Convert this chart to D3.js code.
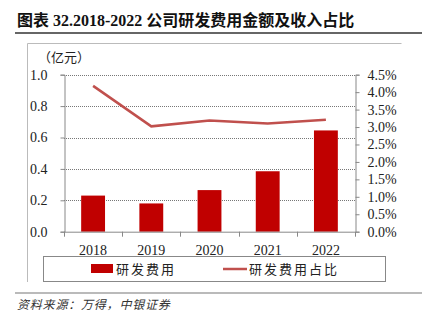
<!DOCTYPE html>
<html>
<head>
<meta charset="utf-8">
<script src="https://cdn.jsdelivr.net/npm/d3@7"></script>
<style>
  html, body { margin: 0; padding: 0; background: #fff; }
  svg { display: block; }
</style>
</head>
<body>
<svg id="chart" width="425" height="326"></svg>
<script>
// R&D expense (100 million CNY) and its share of revenue, 2018-2022
const years = ["2018", "2019", "2020", "2021", "2022"];
const rdExpense = [0.23, 0.18, 0.265, 0.385, 0.645];
const rdShare = [0.0418, 0.0302, 0.0319, 0.0310, 0.0321];
const leftTicks = [0, 0.2, 0.4, 0.6, 0.8, 1.0];
const rightTicks = [0, 0.005, 0.01, 0.015, 0.02, 0.025, 0.03, 0.035, 0.04, 0.045];

const titleText = "图表 32.2018-2022 公司研发费用金额及收入占比";
const unitText = "（亿元）";
const legendBar = "研发费用";
const legendLine = "研发费用占比";
const sourceText = "资料来源：万得，中银证券";

const latin = "'Liberation Serif', 'Times New Roman', serif";
const cjk = "'Noto Sans CJK SC', sans-serif";
const mixed = "'Liberation Serif', 'Noto Sans CJK SC', serif";

const svg = d3.select("#chart");

const plot = { left: 64, right: 355, top: 74.7, bottom: 231.7 };

const x = d3.scaleBand().domain(years).range([plot.left, plot.right]).paddingInner(0.59).paddingOuter(0.295);
const xBand = d3.scaleBand().domain(years).range([plot.left, plot.right]);
const yL = d3.scaleLinear().domain([0, 1.0]).range([plot.bottom, plot.top]);
const yR = d3.scaleLinear().domain([0, 0.045]).range([plot.bottom, plot.top]);

// Title and rules
svg.append("text").attr("x", 17).attr("y", 26)
  .attr("font-family", mixed).attr("font-weight", "bold").attr("font-size", 16)
  .attr("fill", "#111").text(titleText);
svg.append("line").attr("x1", 15).attr("x2", 422).attr("y1", 33).attr("y2", 33)
  .attr("stroke", "#333").attr("stroke-width", 1.5);
svg.append("line").attr("x1", 15).attr("x2", 422).attr("y1", 293).attr("y2", 293)
  .attr("stroke", "#777").attr("stroke-width", 1.2);

// Chart frame (left and top edges)
svg.append("path").attr("d", "M27.5,282 V43.5 H401.5")
  .attr("fill", "none").attr("stroke", "#bbb").attr("stroke-width", 1);

// Unit label
svg.append("text").attr("x", 38).attr("y", 62)
  .attr("font-family", cjk).attr("font-size", 13).attr("fill", "#222").text(unitText);

// Dotted grid lines
svg.append("g").selectAll("line").data(leftTicks.filter(d => d > 0)).join("line")
  .attr("x1", plot.left).attr("x2", plot.right)
  .attr("y1", d => Math.round(yL(d)) + 0.5).attr("y2", d => Math.round(yL(d)) + 0.5)
  .attr("stroke", "#777").attr("stroke-width", 1).attr("stroke-dasharray", "1,1");

// Bars
svg.append("g").selectAll("rect").data(years).join("rect")
  .attr("x", d => x(d)).attr("width", x.bandwidth())
  .attr("y", (d, i) => yL(rdExpense[i]))
  .attr("height", (d, i) => plot.bottom - yL(rdExpense[i]))
  .attr("fill", "#C00000");

// Left axis
const axisL = svg.append("g").attr("transform", `translate(${plot.left + 0.5},0)`)
  .call(d3.axisLeft(yL).tickValues(leftTicks).tickFormat(d3.format(".1f")).tickSize(4).tickPadding(13));
axisL.select(".domain").attr("stroke", "#888");
axisL.selectAll(".tick line").attr("stroke", "#888");
axisL.selectAll("text").attr("font-family", latin).attr("font-size", 14).attr("fill", "#222");

// Right axis
const axisR = svg.append("g").attr("transform", `translate(${plot.right + 0.5},0)`)
  .call(d3.axisRight(yR).tickValues(rightTicks).tickFormat(d3.format(".1%")).tickSize(4).tickPadding(8));
axisR.select(".domain").attr("stroke", "#888");
axisR.selectAll(".tick line").attr("stroke", "#888");
axisR.selectAll("text").attr("font-family", latin).attr("font-size", 14).attr("fill", "#222");

// Bottom axis with ticks between categories
const axisB = svg.append("g").attr("transform", `translate(0,${plot.bottom + 0.5})`)
  .call(d3.axisBottom(x).tickSize(0).tickPadding(13));
axisB.select(".domain").attr("stroke", "#888").attr("d", `M${plot.left},0H${plot.right}`);
axisB.selectAll("text").attr("font-family", latin).attr("font-size", 14).attr("fill", "#222");
svg.append("g").selectAll("line").data(years.concat(["end"])).join("line")
  .attr("x1", (d, i) => Math.round(plot.left + i * xBand.bandwidth()) + 0.5)
  .attr("x2", (d, i) => Math.round(plot.left + i * xBand.bandwidth()) + 0.5)
  .attr("y1", plot.bottom).attr("y2", plot.bottom + 5)
  .attr("stroke", "#888");

// Share line
const line = d3.line()
  .x((d, i) => x(years[i]) + x.bandwidth() / 2)
  .y(d => yR(d));
svg.append("path").datum(rdShare).attr("d", line)
  .attr("fill", "none").attr("stroke", "#C0504D").attr("stroke-width", 2.5);

// Legend
const lg = svg.append("g");
lg.append("rect").attr("x", 43.5).attr("y", 256.5).attr("width", 342).attr("height", 25)
  .attr("fill", "#fff").attr("stroke", "#888").attr("stroke-width", 1);
lg.append("rect").attr("x", 91).attr("y", 264).attr("width", 22).attr("height", 9).attr("fill", "#C00000");
lg.append("text").attr("x", 116).attr("y", 274)
  .attr("font-family", cjk).attr("font-size", 13).attr("letter-spacing", 2).attr("fill", "#222").text(legendBar);
lg.append("line").attr("x1", 223).attr("x2", 247).attr("y1", 269).attr("y2", 269)
  .attr("stroke", "#C0504D").attr("stroke-width", 2.5);
lg.append("text").attr("x", 249).attr("y", 274)
  .attr("font-family", cjk).attr("font-size", 13).attr("letter-spacing", 2).attr("fill", "#222").text(legendLine);

// Source note
svg.append("text").attr("x", 17).attr("y", 309)
  .attr("font-family", cjk).attr("font-size", 12).attr("font-style", "italic").attr("letter-spacing", 0.8)
  .attr("fill", "#333").text(sourceText);
</script>
</body>
</html>
